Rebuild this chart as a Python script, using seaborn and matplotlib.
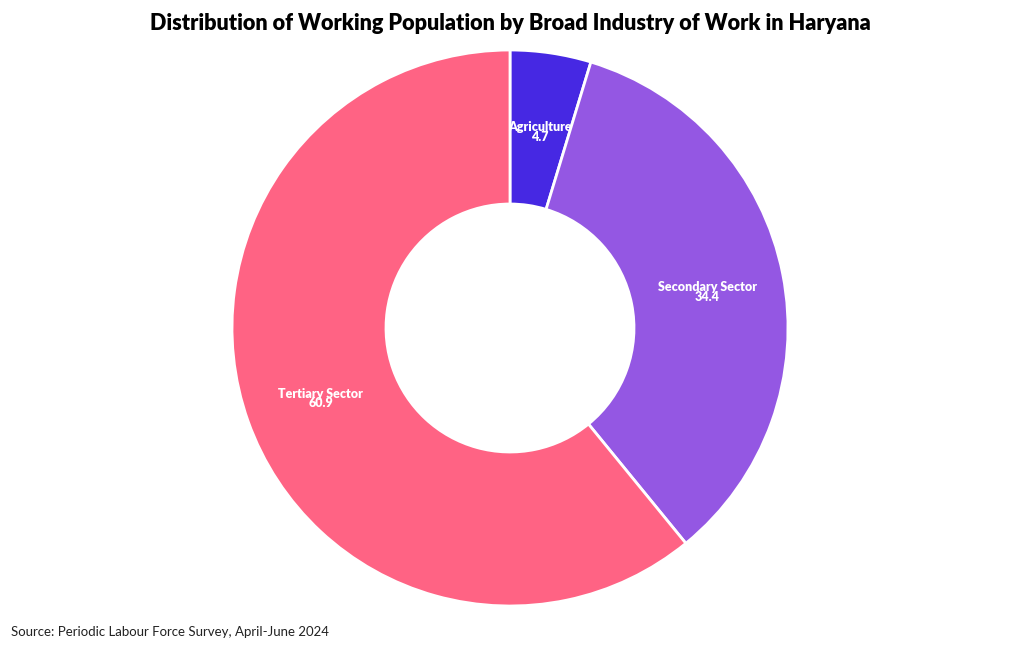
import matplotlib
matplotlib.use("Agg")
import matplotlib.pyplot as plt
import seaborn as sns
import numpy as np

categories = ["Agriculture", "Secondary Sector", "Tertiary Sector"]
values = [4.7, 34.4, 60.9]
colors = ["#4628E3", "#9457E3", "#FF6384"]
title = "Distribution of Working Population by Broad Industry of Work in Haryana"
source = "Source: Periodic Labour Force Survey, April-June 2024"

sns.set_theme(style="white")
plt.rcParams['font.family'] = ['Lato', 'DejaVu Sans']

fig = plt.figure(figsize=(10.2, 6.5), dpi=100)
fig.patch.set_facecolor("white")
ax = fig.add_axes([232/1020, (650-606)/650, 556/1020, 556/650])

outer = 1.0
inner = 124/278
wedges, _ = ax.pie(values, colors=colors, startangle=90, counterclock=False,
                   radius=outer,
                   wedgeprops=dict(width=outer-inner, edgecolor="white", linewidth=2))
mid = (outer + inner) / 2
for w, cat, v in zip(wedges, categories, values):
    ang = np.deg2rad((w.theta1 + w.theta2) / 2)
    x, y = mid*np.cos(ang), mid*np.sin(ang) - 0.01
    ax.text(x, y, f"{cat}\n{v}", ha="center", va="center", color="white",
            fontsize=9, fontweight="heavy", linespacing=0.75)
ax.set_xlim(-1, 1)
ax.set_ylim(-1, 1)
ax.set_aspect("equal")
ax.axis("off")

fig.text(510/1020, 1-24/650, title, ha="center", va="center", fontsize=15.6,
         fontweight="heavy", color="black")
fig.text(11/1020, 1-632/650, source, ha="left", va="center", fontsize=9.5, color="#222222")

fig.savefig("out.png", dpi=100)
